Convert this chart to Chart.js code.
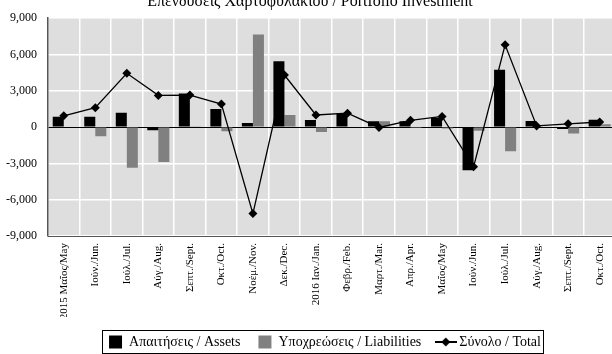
<!DOCTYPE html>
<html>
<head>
<meta charset="utf-8">
<script src="https://cdn.jsdelivr.net/npm/chart.js@4"></script>
<style>
    html, body { margin: 0; padding: 0; background: #fff; overflow: hidden; width: 612px; height: 354px; }
    #wrap { position: absolute; left: 0; top: -12px; }
</style>
</head>
<body>
<div id="wrap"><canvas id="bopChart" width="620" height="371"></canvas></div>
<script>
// Months shown on the x axis
const months = [
    '2015 Μαΐος/May', 'Ιούν./Jun.', 'Ιούλ./Jul.', 'Αύγ./Aug.', 'Σεπτ./Sept.', 'Οκτ./Oct.',
    'Νοέμ./Nov.', 'Δεκ./Dec.', '2016 Ιαν./Jan.', 'Φεβρ./Feb.', 'Μαρτ./Mar.', 'Απρ./Apr.',
    'Μαΐος/May', 'Ιούν./Jun.', 'Ιούλ./Jul.', 'Αύγ./Aug.', 'Σεπτ./Sept.', 'Οκτ./Oct.'
];

// Series values (EUR million)
const assets      = [850, 850, 1180, -270, 2780, 1490, 340, 5450, 580, 1130, 480, 490, 780, -3570, 4750, 500, -150, 600];
const liabilities = [0, -760, -3350, -2880, 60, -350, 7650, 1000, -400, 0, 490, -70, -120, -300, -2000, 0, -530, 240];
const total       = [930, 1600, 4450, 2620, 2650, 1900, -7150, 4300, 1000, 1150, -30, 560, 880, -3280, 6800, 100, 270, 420];

const yTicks = [-9000, -6000, -3000, 0, 3000, 6000, 9000];

const serif = '"Liberation Serif", "DejaVu Serif", serif';

// legend icon for the total series: short line with a diamond
const totalIcon = document.createElement('canvas');
totalIcon.width = 22;
totalIcon.height = 10;
(() => {
    const c = totalIcon.getContext('2d');
    c.fillStyle = '#000';
    c.fillRect(0, 4, 22, 2);
    c.beginPath();
    c.moveTo(11, 0.5); c.lineTo(15.5, 5); c.lineTo(11, 9.5); c.lineTo(6.5, 5);
    c.closePath();
    c.fill();
})();

const plotBackground = {
    id: 'plotBackground',
    beforeDraw(chart) {
        const { ctx, chartArea: a } = chart;
        ctx.save();
        ctx.fillStyle = '#dedede';
        ctx.fillRect(a.left, a.top, a.right - a.left, a.bottom - a.top);
        ctx.restore();
    }
};

const legendFrame = {
    id: 'legendFrame',
    afterLayout(chart) {
        chart.legend.left += 15;
        chart.legend.right += 15;
    },
    afterDraw(chart) {
        const lg = chart.legend;
        const pad = lg.options.labels.padding;
        const fs = lg.options.labels.font.size;
        const lw = lg.lineWidths[0];
        const x0 = (lg.left + pad + lg.right - lw) / 2;
        const x1 = x0 + lw - pad;
        const cy = lg.top + pad + fs / 2;
        const ctx = chart.ctx;
        ctx.save();
        ctx.strokeStyle = '#000';
        ctx.lineWidth = 1;
        ctx.strokeRect(Math.round(x0 - 7) + 0.5, Math.round(cy - 12) + 0.5,
            Math.round(x1 - x0 + 9), 23);
        ctx.restore();
    }
};

new Chart(document.getElementById('bopChart').getContext('2d'), {
    data: {
        labels: months,
        datasets: [
            {
                type: 'bar',
                label: 'Απαιτήσεις / Assets',
                data: assets,
                backgroundColor: '#000000',
                categoryPercentage: 0.7,
                barPercentage: 1.0,
                order: 1
            },
            {
                type: 'bar',
                label: 'Υποχρεώσεις / Liabilities',
                data: liabilities,
                backgroundColor: '#808080',
                categoryPercentage: 0.7,
                barPercentage: 1.0,
                order: 1
            },
            {
                type: 'line',
                label: 'Σύνολο / Total',
                data: total,
                borderColor: '#000000',
                borderWidth: 1.3,
                backgroundColor: '#000000',
                pointStyle: 'rectRot',
                pointRadius: 4.5,
                pointBackgroundColor: '#000000',
                pointBorderWidth: 0,
                tension: 0,
                order: 0
            }
        ]
    },
    options: {
        responsive: false,
        animation: false,
        layout: { padding: { left: 0, right: 0, top: 0, bottom: 0 } },
        plugins: {
            title: {
                display: true,
                text: 'Επενδύσεις Χαρτοφυλακίου / Portfolio Investment',
                color: '#000',
                font: { family: serif, size: 16, weight: 'normal' },
                padding: { top: 4, bottom: 7 }
            },
            legend: {
                position: 'bottom',
                labels: {
                    color: '#000',
                    font: { family: serif, size: 14 },
                    usePointStyle: true,
                    boxWidth: 13,
                    boxHeight: 13,
                    padding: 18,
                    sort: (a, b) => a.datasetIndex - b.datasetIndex,
                    generateLabels(chart) {
                        const items = Chart.defaults.plugins.legend.labels.generateLabels(chart);
                        items.forEach(it => {
                            it.pointStyle = it.datasetIndex === 2 ? totalIcon : 'rect';
                            it.lineWidth = 0;
                        });
                        return items;
                    }
                }
            },
            tooltip: { enabled: false }
        },
        scales: {
            x: {
                grid: { color: '#ffffff', lineWidth: 1.5, drawTicks: false, offset: true },
                border: { color: '#555555', width: 1 },
                ticks: {
                    color: '#000',
                    font: { family: serif, size: 11 },
                    minRotation: 90,
                    maxRotation: 90,
                    padding: 7,
                    autoSkip: false
                },
                afterFit: scale => { scale.height = 81; }
            },
            y: {
                min: -9000,
                max: 9000,
                grid: {
                    color: c => (c.tick && c.tick.value === 0 ? '#000000' : '#ffffff'),
                    lineWidth: c => (c.tick && c.tick.value === 0 ? 1 : 1.5),
                    drawTicks: false
                },
                border: { color: '#555555', width: 1.5 },
                afterBuildTicks: scale => { scale.ticks = yTicks.map(v => ({ value: v })); },
                ticks: {
                    color: '#000',
                    font: { family: serif, size: 12 },
                    padding: 11,
                    callback: v => v.toLocaleString('en-US')
                },
                afterFit: scale => { scale.width = 48; }
            }
        }
    },
    plugins: [plotBackground, legendFrame]
});
</script>
</body>
</html>
